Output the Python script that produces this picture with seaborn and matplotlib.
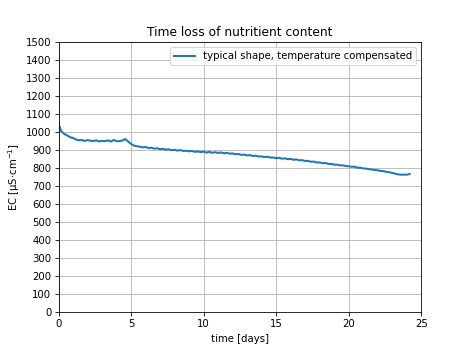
import numpy as np
import pandas as pd
import matplotlib
matplotlib.use("Agg")
import matplotlib.pyplot as plt
import seaborn as sns

# EC readings every 0.2 days
days = np.round(np.arange(0, 24.21, 0.2), 1)
ec = [1045, 1005, 990, 982, 972, 968, 960, 955, 957, 952,
      956, 953, 951, 955, 949, 952, 950, 955, 948, 957,
      951, 950, 954, 962, 948, 935, 926, 922, 920, 916,
      918, 912, 914, 909, 911, 906, 908, 903, 905, 900,
      902, 898, 901, 896, 897, 894, 896, 891, 893, 890,
      892, 887, 891, 886, 889, 885, 888, 883, 886, 881,
      882, 878, 879, 874, 876, 871, 873, 868, 870, 865,
      866, 862, 864, 859, 860, 856, 858, 853, 855, 850,
      852, 847, 849, 844, 845, 840, 841, 836, 837, 832,
      832, 828, 829, 824, 824, 820, 820, 816, 816, 812,
      811, 808, 809, 803, 803, 799, 798, 795, 793, 790,
      789, 785, 784, 780, 778, 774, 770, 766, 764, 765,
      764, 768]

df = pd.DataFrame({"days": days, "ec": ec})

fig, ax = plt.subplots(figsize=(6.4, 4.8), dpi=73.125)
sns.lineplot(data=df, x="days", y="ec", ax=ax, color="tab:blue", linewidth=2,
             label="typical shape, temperature compensated")

ax.set_xlim(0, 25)
ax.set_ylim(0, 1500)
ax.set_yticks(np.arange(0, 1501, 100))
ax.set_xticks(np.arange(0, 26, 5))
ax.grid(True)
ax.set_xlabel("time [days]")
ax.set_ylabel(r"EC [µS$\cdot$cm$^{-1}$]")
ax.set_title("Time loss of nutritient content")
ax.legend(loc="upper right")

plt.savefig("out.png", dpi=73.125)
